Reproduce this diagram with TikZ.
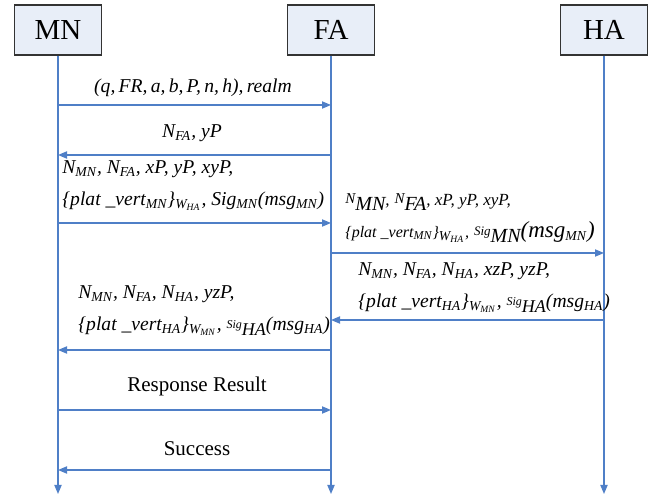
\documentclass[tikz,border=0pt]{standalone}
\usepackage{fontspec}
\setmainfont{Liberation Serif}
\usepackage{xcolor}
\usetikzlibrary{arrows.meta}
\definecolor{lineblue}{HTML}{4F7FC7}
\definecolor{boxfill}{HTML}{E8EEF8}
\newcommand{\lsub}[1]{\textsubscript{#1}}
\newcommand{\fsz}[1]{\fontsize{#1}{16}\selectfont}
% small raised / big lowered pieces
\newcommand{\up}[2]{\raisebox{1pt}{\fsz{#1}#2}}
\newcommand{\down}[2]{\raisebox{-2.5pt}{\fsz{#1}#2}}

\begin{document}
\begin{tikzpicture}[x=0.5pt,y=-0.5pt,
  entity/.style={draw=black!80,fill=boxfill,line width=0.6pt,minimum width=43.5pt,minimum height=25pt,inner sep=0pt,font=\fontsize{14.5}{16}\selectfont},
  life/.style={draw=lineblue,line width=0.6pt,-{Triangle[length=4.5pt,width=3.6pt]}},
  msg/.style={life},
  lbl/.style={inner sep=0pt,font=\fontsize{10.5}{16}\selectfont},
  lblml/.style={lbl,align=left,anchor=west,font=\fontsize{9.8}{16}\selectfont\itshape}]
%%\draw[help lines] (0,0) grid[step=50] (649,497);
\useasboundingbox (0,0) rectangle (649,497);
\node [entity] (MN) at (58,30) {MN};
\node [entity] (FA) at (331,30) {FA};
\node [entity] (HA) at (604,30) {HA};
\coordinate (MNend) at (58,494);
\coordinate (FAend) at (331,494);
\coordinate (HAend) at (604,494);
\draw [life] (MN.south) -- (MNend);
\draw [life] (FA.south) -- (FAend);
\draw [life] (HA.south) -- (HAend);
\foreach \n/\y in {1/105,2/155,3/223,4/253,5/320,6/350,7/410,8/470}{
  \coordinate (mn\n) at (58,\y);
  \coordinate (fa\n) at (331,\y);
  \coordinate (ha\n) at (604,\y);
}
\draw [msg] (mn1) -- (fa1);
\draw [msg] (fa2) -- (mn2);
\draw [msg] (mn3) -- (fa3);
\draw [msg] (fa4) -- (ha4);
\draw [msg] (ha5) -- (fa5);
\draw [msg] (fa6) -- (mn6);
\draw [msg] (mn7) -- (fa7);
\draw [msg] (fa8) -- (mn8);
\node [lbl,font=\fsz{9.8}\itshape] (lab1) at (193,88) {(q,\,FR,\,a,\,b,\,P,\,n,\,h),\,realm};
\node [lbl,font=\fsz{9.8}\itshape] (lab2) at (192,133) {N\lsub{FA}, yP};
\node [lblml] (lab3) at (62,186) {N\lsub{MN}, N\lsub{FA}, xP, yP, xyP,\\
  \{plat \_vert\lsub{MN}\}\lsub{W\lsub{HA}}, Sig\lsub{MN}(msg\lsub{MN})};
\node [lblml] (lab4) at (345,218) {\up{7.5}{N}\down{10}{MN}{\fsz{8.5},} \up{7.5}{N}\down{10}{FA}{\fsz{8.5}, xP, yP, xyP,}\\
  {\fsz{8}\{plat \_vert\lsub{MN}\}}\lsub{W\lsub{HA}}{\fsz{8},} \up{6.5}{Sig}\down{10}{MN}{\fsz{11.5}(msg}\lsub{MN}{\fsz{11.5})}};
\node [lblml] (lab5) at (358,288) {N\lsub{MN}, N\lsub{FA}, N\lsub{HA}, xzP, yzP,\\
  \{plat \_vert\lsub{HA}\}\lsub{W\lsub{MN}}, \up{6}{Sig}\down{9}{HA}(msg\lsub{HA})};
\node [lblml] (lab6) at (78,311) {N\lsub{MN}, N\lsub{FA}, N\lsub{HA}, yzP,\\
  \{plat \_vert\lsub{HA}\}\lsub{W\lsub{MN}}, \up{6}{Sig}\down{9}{HA}(msg\lsub{HA})};
\node [lbl] (lab7) at (197,386) {Response Result};
\node [lbl] (lab8) at (197,449) {Success};
\end{tikzpicture}
\end{document}
